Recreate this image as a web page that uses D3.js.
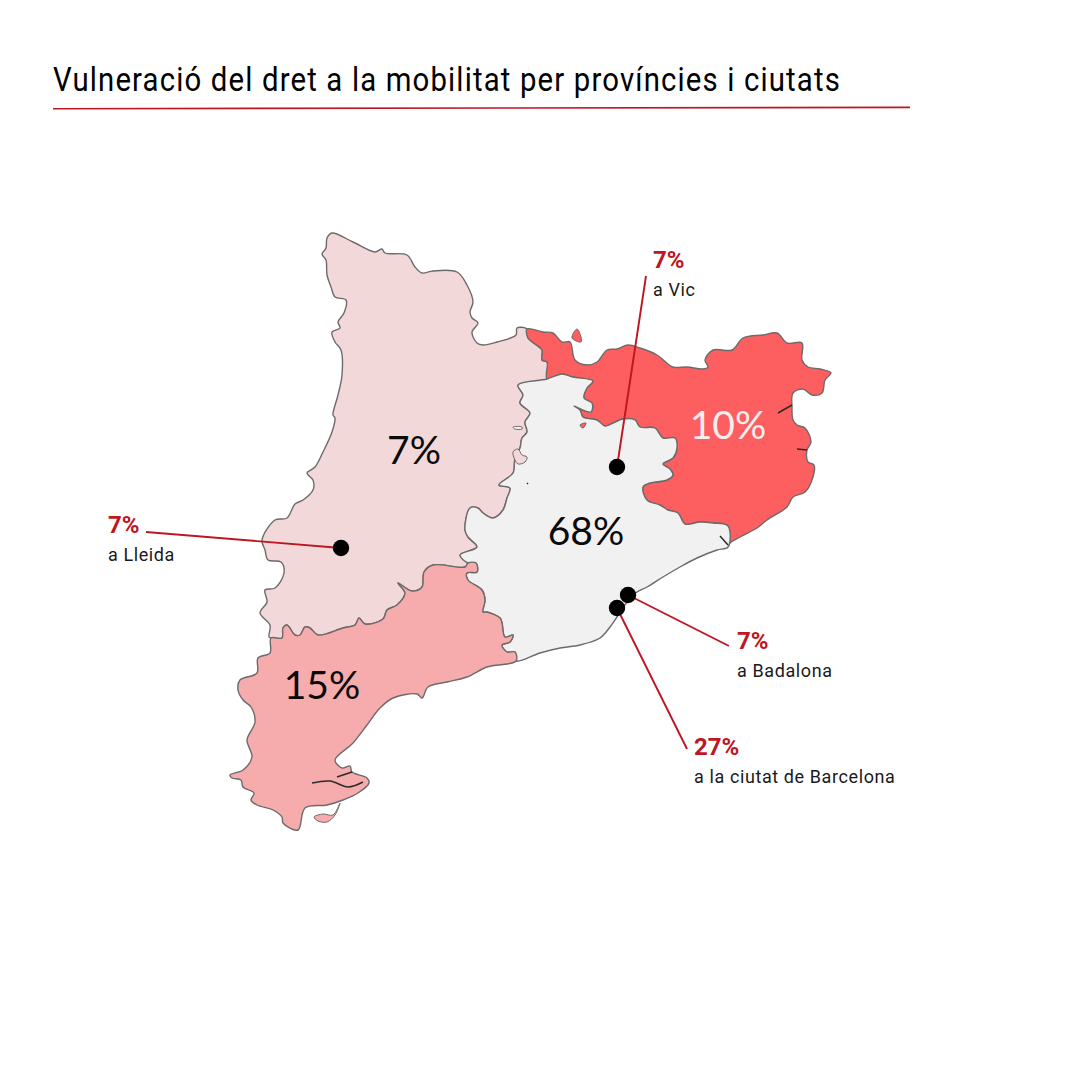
<!DOCTYPE html>
<html>
<head>
<meta charset="utf-8">
<script src="https://cdnjs.cloudflare.com/ajax/libs/d3/7.8.5/d3.min.js"></script>
<style>
  html, body { margin: 0; background: #fff; }
  svg { display: block; }
</style>
</head>
<body>
<svg id="chart" width="1080" height="1080"></svg>
<script>
const titleText = "Vulneració del dret a la mobilitat per províncies i ciutats";

const provinces = ["Lleida", "Girona", "Barcelona", "Tarragona"];
const provinceShares = [7, 10, 68, 15];
const provinceColors = ["#f2d8d8", "#fd5f60", "#f1f1f1", "#f6abac"];

const cities = ["Vic", "Lleida", "Badalona", "la ciutat de Barcelona"];
const cityShares = [7, 7, 7, 27];
const cityPoints = [[417, 267], [141, 348], [428, 395], [417, 408]];

// outlines, in map units
const lleidaOuter = [[327,129],[317,128],[316,135],[297,142],[283,145],[277,143],[272,132],[278,123],[272,118],[270,112],[273,102],[267,85],[257,72],[233,71],[222,73],[215,67],[207,55],[185,53],[182,49],[175,52],[153,42],[132,33],[127,38],[126,48],[122,54],[126,60],[127,75],[131,87],[135,97],[146,100],[144,113],[138,122],[140,128],[132,132],[135,142],[141,150],[142,175],[138,195],[133,215],[135,218],[132,232],[123,252],[115,267],[107,273],[113,280],[113,290],[103,300],[95,304],[87,318],[75,320],[62,340],[65,350],[68,360],[81,362],[84,373],[75,388],[65,390],[67,402],[60,413],[70,425],[69,437],[71,438]];
const lleidaTarragona = [[71,438],[82,438],[83,428],[87,425],[95,435],[100,435],[105,427],[110,428],[118,435],[143,428],[155,425],[159,418],[165,424],[183,419],[187,410],[197,405],[205,393],[198,383],[212,391],[222,387],[224,372],[233,365],[265,367],[268,363]];
const lleidaBarcelona = [[268,363],[260,355],[277,347],[268,337],[265,330],[270,308],[278,308],[283,313],[293,318],[303,310],[307,298],[310,288],[299,285],[313,273],[315,258],[320,248],[322,238],[327,232],[325,222],[330,213],[320,203],[323,195],[318,185],[347,179]];
const lleidaGirona = [[347,179],[347,162],[342,160],[342,150],[335,144],[328,138],[327,129]];
const gironaOuter = [[327,129],[343,132],[353,133],[362,142],[370,142],[375,160],[387,165],[397,162],[407,150],[417,149],[428,145],[440,148],[457,155],[473,167],[487,167],[503,169],[508,167],[505,160],[513,150],[532,150],[543,138],[563,135],[577,133],[587,143],[602,143],[602,160],[608,167],[620,169],[631,173],[625,180],[622,193],[612,195],[603,189],[593,193],[592,207],[593,220],[597,225],[605,228],[611,242],[607,250],[608,262],[614,265],[612,280],[605,292],[593,297],[587,307],[567,320],[557,328],[540,337],[530,343],[528,347]];
const gironaBarcelona = [[528,347],[528,326],[513,323],[500,322],[485,324],[478,313],[468,310],[460,305],[447,300],[443,287],[450,283],[467,280],[473,275],[470,269],[463,264],[473,258],[477,248],[475,238],[463,238],[455,228],[440,227],[435,220],[423,219],[413,223],[405,226],[397,220],[383,217],[380,210],[374,206],[391,212],[392,203],[384,198],[387,188],[393,181],[373,177],[362,174],[347,179]];
const barcelonaCoast = [[528,347],[517,350],[497,358],[480,367],[463,377],[447,387],[437,392],[427,402],[417,417],[410,427],[400,438],[380,445],[360,448],[340,453],[316,461]];
const barcelonaTarragona = [[316,461],[315,452],[307,452],[302,445],[310,442],[313,435],[305,437],[302,423],[300,418],[287,412],[283,412],[285,400],[282,390],[268,380],[267,373],[277,372],[276,363],[268,363]];
const tarragonaOuter = [[316,461],[287,467],[267,477],[247,482],[228,487],[222,498],[217,494],[193,498],[180,508],[167,525],[153,543],[135,560],[142,568],[150,566],[152,572],[167,578],[169,583],[158,593],[143,600],[127,605],[105,608],[98,630],[83,623],[82,617],[73,610],[57,605],[51,600],[54,593],[43,587],[41,580],[32,578],[30,575],[43,570],[52,557],[47,540],[55,522],[51,507],[43,500],[38,490],[40,480],[57,473],[58,458],[70,453],[71,438]];
const ebroDelta = [[114,617],[123,614],[133,615],[140,603],[135,615],[127,622],[118,621]];
const llivia = [[372,138],[377,129],[381,137],[381,142]];
const gironaExclave = [[380,225],[386,223],[383,228]];
const lleidaExclave = [[313,252],[318,249],[322,255],[327,257],[325,262],[318,264],[315,260]];
const lleidaLake = [[313,227],[322,227],[322,229],[315,229]];
const darkLines = [
  [[112,583],[130,581],[148,587],[163,582]],
  [[137,577],[152,572]],
  [[578,213],[592,205]],
  [[597,249],[607,250]],
  [[520,336],[528,345]],
  [[327,283],[328,284]]
];

const svg = d3.select("#chart");
const red = "#be1622";
const textFont = "Roboto, sans-serif";
const regionFont = "Lato, sans-serif";

const projection = d3.geoIdentity().translate([200, 200]);
const outline = curve => d3.line()
  .x(d => projection(d)[0])
  .y(d => projection(d)[1])
  .curve(curve);
const closedOutline = outline(d3.curveCatmullRomClosed.alpha(0.5));
const openOutline = outline(d3.curveCatmullRom.alpha(0.5));
const shade = d3.scaleOrdinal(provinces, provinceColors);

const rings = {
  Lleida: [...lleidaOuter, ...lleidaTarragona.slice(1), ...lleidaBarcelona.slice(1), ...lleidaGirona.slice(1, -1)],
  Girona: [...gironaOuter, ...gironaBarcelona.slice(1), ...lleidaGirona.slice(1, -1)],
  Barcelona: [...barcelonaCoast, ...barcelonaTarragona.slice(1), ...lleidaBarcelona.slice(1), ...gironaBarcelona.slice().reverse().slice(1, -1)],
  Tarragona: [...tarragonaOuter, ...lleidaTarragona.slice(1), ...barcelonaTarragona.slice().reverse().slice(1, -1)]
};

svg.append("text")
  .attr("x", 53).attr("y", 91)
  .attr("textLength", 788)
  .attr("lengthAdjust", "spacingAndGlyphs")
  .style("font", "400 33px " + textFont)
  .style("letter-spacing", "1.3px")
  .style("fill", "#000")
  .text(titleText);

svg.append("line")
  .attr("x1", 53).attr("y1", 108.7).attr("x2", 910).attr("y2", 107.4)
  .attr("stroke", red).attr("stroke-width", 1.6);

const map = svg.append("g")
  .attr("stroke", "#6e6a6a")
  .attr("stroke-width", 1.4)
  .attr("stroke-linejoin", "round")
  .style("filter", "blur(0.45px)");

map.selectAll("path.province")
  .data(provinces)
  .join("path")
  .attr("class", "province")
  .attr("fill", d => shade(d))
  .attr("d", d => closedOutline(rings[d]));

const patches = [
  { ring: llivia, name: "Girona" },
  { ring: ebroDelta, name: "Tarragona" },
  { ring: gironaExclave, name: "Girona" },
  { ring: lleidaExclave, name: "Lleida" },
  { ring: lleidaLake, name: "Barcelona" }
];

map.selectAll("path.patch")
  .data(patches)
  .join("path")
  .attr("class", "patch")
  .attr("fill", d => shade(d.name))
  .attr("stroke-width", 1)
  .attr("d", d => closedOutline(d.ring));

map.selectAll("path.dark")
  .data(darkLines)
  .join("path")
  .attr("class", "dark")
  .attr("fill", "none")
  .attr("stroke", "#2e2a2a")
  .attr("stroke-width", 1.5)
  .attr("d", d => openOutline(d));

// province figures
const regionLabelAt = { Lleida: [414, 464], Girona: [728, 439], Barcelona: [586, 545], Tarragona: [322, 699] };

svg.selectAll("text.region")
  .data(provinces)
  .join("text")
  .attr("class", "region")
  .attr("x", d => regionLabelAt[d][0])
  .attr("y", d => regionLabelAt[d][1])
  .attr("text-anchor", "middle")
  .style("font", "39px " + regionFont)
  .style("fill", d => d === "Girona" ? "#fbeeee" : "#0a0a0a")
  .text((d, i) => provinceShares[i] + "%");

// city callouts
const leaderEnds = [[646, 276], [146, 532], [729, 646], [687, 749]];
const calloutAt = [[653, 268], [108, 533], [737, 649], [694, 755]];

const callouts = svg.selectAll("g.callout")
  .data(cities)
  .join("g")
  .attr("class", "callout");

callouts.append("line")
  .attr("x1", (d, i) => leaderEnds[i][0])
  .attr("y1", (d, i) => leaderEnds[i][1])
  .attr("x2", (d, i) => projection(cityPoints[i])[0])
  .attr("y2", (d, i) => projection(cityPoints[i])[1])
  .attr("stroke", red)
  .attr("stroke-width", 1.9);

callouts.append("text")
  .attr("x", (d, i) => calloutAt[i][0])
  .attr("y", (d, i) => calloutAt[i][1])
  .style("font", "bold 24px " + textFont)
  .style("fill", red)
  .text((d, i) => cityShares[i] + "%");

callouts.append("text")
  .attr("x", (d, i) => calloutAt[i][0])
  .attr("y", (d, i) => calloutAt[i][1] + 28)
  .style("font", "18px " + textFont)
  .style("letter-spacing", "0.6px")
  .style("fill", "#1a1a1a")
  .text(d => "a " + d);

callouts.append("circle")
  .attr("cx", (d, i) => projection(cityPoints[i])[0])
  .attr("cy", (d, i) => projection(cityPoints[i])[1])
  .attr("r", 8.2)
  .attr("fill", "#000");
</script>
</body>
</html>
